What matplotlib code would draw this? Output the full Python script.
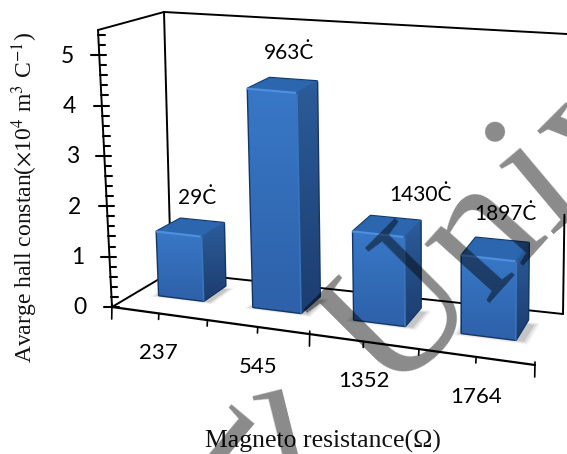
import numpy as np
import matplotlib
matplotlib.use("Agg")
import matplotlib.pyplot as plt
from matplotlib.patches import Polygon

# Bar data
Categories = ["237", "545", "1352", "1764"]
BarLabels = ["29Ċ", "963Ċ", "1430Ċ", "1897Ċ"]
HallValues = [1.29, 4.36, 1.73, 1.5]
YTicks = [0, 1, 2, 3, 4, 5]

YMAX = 5.5
BarLeft, BarRight = 0.25, 0.73
BarFront, BarBack = 0.42, 0.82
LabelDx = [6, 5, 32, 9]
LabelDy = [-30, -32, -31, -35]

# Corners of the 3D box on the page: front-left, front-right, back-right, back-left
FloorCorners = np.array([(112, 307), (535, 365), (563, 314), (171, 272)], float)
TopCorners = np.array([(98, 30), (538, 70), (567, 34), (164, 12)], float)


def Bilinear(C, s, w):
    return (C[0] * (1 - s) + C[1] * s) * (1 - w) + (C[3] * (1 - s) + C[2] * s) * w


# u runs along the categories (0-4), w is depth (0-1), v is the axis value
def Project(u, w, v):
    t = u / 4
    s = t * (0.87 + 0.13 * t)
    A = Bilinear(FloorCorners, s, w)
    B = Bilinear(TopCorners, s, w)
    return tuple(A + (B - A) * v / YMAX)


plt.rcParams["mathtext.fontset"] = "stix"
fig = plt.figure(figsize=(5.67, 4.54), dpi=100)
ax = fig.add_axes([0, 0, 1, 1])
ax.set_xlim(0, 567)
ax.set_ylim(454, 0)
ax.axis("off")


def Line(P1, P2, lw=1.4, z=2):
    ax.plot([P1[0], P2[0]], [P1[1], P2[1]], color="black", lw=lw, zorder=z, solid_capstyle="round")


# Box frame
Line(Project(0, 0, 0), Project(0, 0, YMAX))
Line(Project(0, 0, YMAX), Project(0, 1, YMAX))
Line(Project(0, 1, YMAX), Project(0, 1, 0))
Line(Project(0, 1, 0), Project(0, 0, 0))
Line(Project(0, 1, YMAX), Project(4, 1, YMAX))
Line(Project(0, 1, 0), Project(4, 1, 0))
Line(Project(0, 0, 0), Project(4, 0, 0), lw=1.6)
Line(Project(4, 1, 0), Project(4, 1, 1.95))

# Value axis ticks
for Tick in YTicks:
    P = Project(0, 0, Tick)
    Line((P[0] - 8, P[1]), (P[0] + 7, P[1]), lw=1.5)
    ax.text(P[0] - 32, P[1] + 1, str(Tick), fontsize=16.5, family="Lato", ha="center", va="center")
    for Minor in range(1, 5):
        if Tick + Minor / 5 < YMAX:
            Q = Project(0, 0, Tick + Minor / 5)
            Line(Q, (Q[0] + 6.5, Q[1]), lw=1.5)

# Category axis ticks and labels
for i in range(9):
    P = Project(i / 2, 0, 0)
    Length = 12 if i % 4 == 0 else 6
    Line((P[0], P[1] - (3 if i % 4 == 0 else 0)), (P[0] - 0.3, P[1] + Length), lw=1.2)
for i, Name in enumerate(Categories):
    P = Project(i + 0.5, 0, 0)
    ax.text(P[0], P[1] + 40, Name, fontsize=16, family="Lato", ha="center", va="center")

ax.text(323, 441, "Magneto resistance(Ω)", fontsize=18.5, family="Liberation Serif", ha="center", va="center", color="#111111")
ax.text(25, 198, r"Avarge hall constan($\times$10$^4$ m$^3$ C$^{-1}$)", fontsize=17,
        family="Liberation Serif", rotation=90, ha="center", va="center", color="#111111")

# Bars
Gradient = np.linspace(0, 1, 64).reshape(-1, 1)
FrontTop = np.array([0.22, 0.47, 0.78])
FrontBottom = np.array([0.18, 0.38, 0.66])
FrontImg = (FrontTop + (FrontBottom - FrontTop) * Gradient).reshape(64, 1, 3)
SideTop = np.array([0.17, 0.36, 0.60])
SideBottom = np.array([0.11, 0.24, 0.44])
SideImg = (SideTop + (SideBottom - SideTop) * Gradient).reshape(64, 1, 3)


def GradientPoly(Pts, Img, z):
    Xs = [p[0] for p in Pts]
    Ys = [p[1] for p in Pts]
    Poly = Polygon(Pts, closed=True, facecolor="none", edgecolor="none", zorder=z)
    ax.add_patch(Poly)
    Im = ax.imshow(Img, extent=[min(Xs), max(Xs), max(Ys), min(Ys)], aspect="auto", zorder=z, interpolation="bilinear")
    Im.set_clip_path(Poly)


for i, Value in enumerate(HallValues):
    L, R = i + BarLeft, i + BarRight
    F, B = BarFront, BarBack

    # soft shadow on the floor
    for Grow, Alpha in [(0.06, 0.08), (0.04, 0.12), (0.02, 0.18)]:
        Shadow = [Project(L - Grow, F - Grow, 0), Project(R + Grow + 0.06, F - Grow, 0),
                  Project(R + Grow + 0.06, B + Grow - 0.1, 0), Project(L - Grow, B + Grow - 0.1, 0)]
        ax.add_patch(Polygon(Shadow, closed=True, facecolor="#555555", edgecolor="none", alpha=Alpha, zorder=3))

    Front = [Project(L, F, Value), Project(R, F, Value), Project(R, F, 0), Project(L, F, 0)]
    Side = [Project(R, F, Value), Project(R, B, Value), Project(R, B, 0), Project(R, F, 0)]
    Top = [Project(L, F, Value), Project(R, F, Value), Project(R, B, Value), Project(L, B, Value)]

    Dark = "#123767"
    ax.add_patch(Polygon(Front[:1] + Top[3:] + Side[1:3] + Front[2:], closed=True, facecolor=Dark, edgecolor=Dark,
                         lw=2, joinstyle="round", zorder=4))
    GradientPoly(Side, SideImg, 5)
    GradientPoly(Front, FrontImg, 5)
    ax.add_patch(Polygon(Top, closed=True, facecolor="#2c66ae", edgecolor="#2c66ae", lw=0.5, zorder=5))
    # bevel highlights
    ax.plot([Front[0][0], Front[1][0]], [Front[0][1], Front[1][1]], color="#4d8fdc", lw=1.6, zorder=6)
    ax.plot([Front[1][0], Front[2][0]], [Front[1][1], Front[2][1]], color="#3a74bd", lw=1.2, zorder=6)
    ax.plot([Side[0][0], Side[1][0]], [Side[0][1], Side[1][1]], color="#2a5c9c", lw=1.2, zorder=6)

    Mid = Project(i + 0.5, (F + B) / 2, Value)
    ax.text(Mid[0] + LabelDx[i], Mid[1] + LabelDy[i], BarLabels[i], fontsize=15, family="Lato", ha="center", va="center", zorder=7)

# Overprinted watermark letters, placed by their baseline start
WmLetters = ["l", "l", "U", "n", "i", "v"]
WmX = [280, 141, 389, 486, 550, 600]
WmY = [525, 505, 398, 303, 234, 193]
WmRot = [14, -40, 45, 48, 40, 45]
for Ch, X, Y, Rot in zip(WmLetters, WmX, WmY, WmRot):
    ax.text(X, Y, Ch, fontsize=137, family="Liberation Serif", color="black", alpha=0.46,
            rotation=Rot, rotation_mode="anchor", ha="left", va="baseline", zorder=10, clip_on=True)

ax.set_xlim(0, 567)
ax.set_ylim(454, 0)
fig.savefig("out.png", dpi=100)
